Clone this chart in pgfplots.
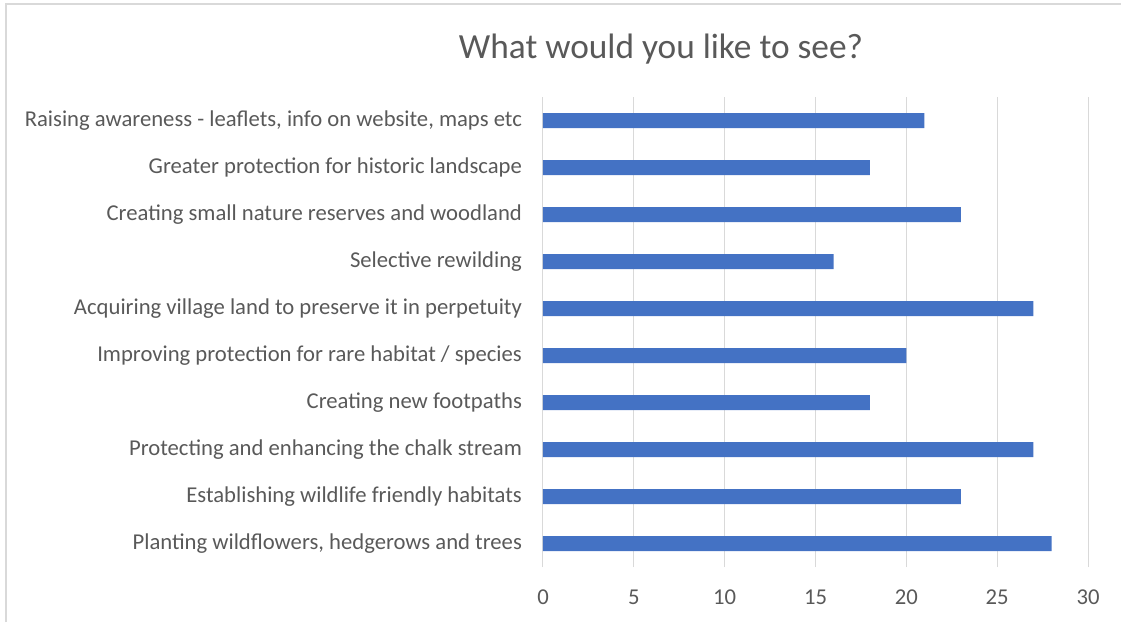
\documentclass[border=0pt]{standalone}
\usepackage{pgfplots}
\pgfplotsset{compat=1.18}
\usepackage{fontspec}
\setmainfont{Carlito}
\definecolor{barblue}{HTML}{4472C4}
\definecolor{txtgray}{HTML}{595959}
\definecolor{gridgray}{HTML}{D9D9D9}
\begin{document}
\begin{tikzpicture}
\useasboundingbox (0,0) rectangle (840.75pt,466.5pt);
\draw[color=gridgray, line width=1pt] (4.5pt,0) -- (4.5pt,463.5pt) -- (840.75pt,463.5pt);
\begin{axis}[
  at={(407.25pt,41.25pt)}, anchor=south west,
  scale only axis, width=408.75pt, height=352.5pt,
  xbar, bar width=11.25pt,
  xmin=0, xmax=30, xtick={0,5,...,30},
  ymin=-0.5, ymax=9.5, ytick={0,...,9},
  yticklabels={
    {Planting wildflowers, hedgerows and trees},
    {Establishing wildlife friendly habitats},
    {Protecting and enhancing the chalk stream},
    {Creating new footpaths},
    {Improving protection for rare habitat / species},
    {Acquiring village land to preserve it in perpetuity},
    {Selective rewilding},
    {Creating small nature reserves and woodland},
    {Greater protection for historic landscape},
    {Raising awareness - leaflets, info on website, maps etc}},
  axis line style={draw=none},
  major tick length=0pt,
  xmajorgrids, grid style={gridgray, line width=0.75pt},
  tick label style={font=\fontsize{17pt}{20pt}\selectfont, text=txtgray},
  xticklabel shift=13.5pt,
  yticklabel shift=12.3pt,
  /pgf/number format/assume math mode=true,
]
\addplot[fill=barblue, draw=none] coordinates {(28,0) (23,1) (27,2) (18,3) (20,4) (27,5) (16,6) (23,7) (18,8) (21,9)};
\end{axis}
\node[text=txtgray, font=\fontsize{26.5pt}{30pt}\selectfont] at (495.75pt,429.75pt) {What would you like to see?};
\end{tikzpicture}
\end{document}
